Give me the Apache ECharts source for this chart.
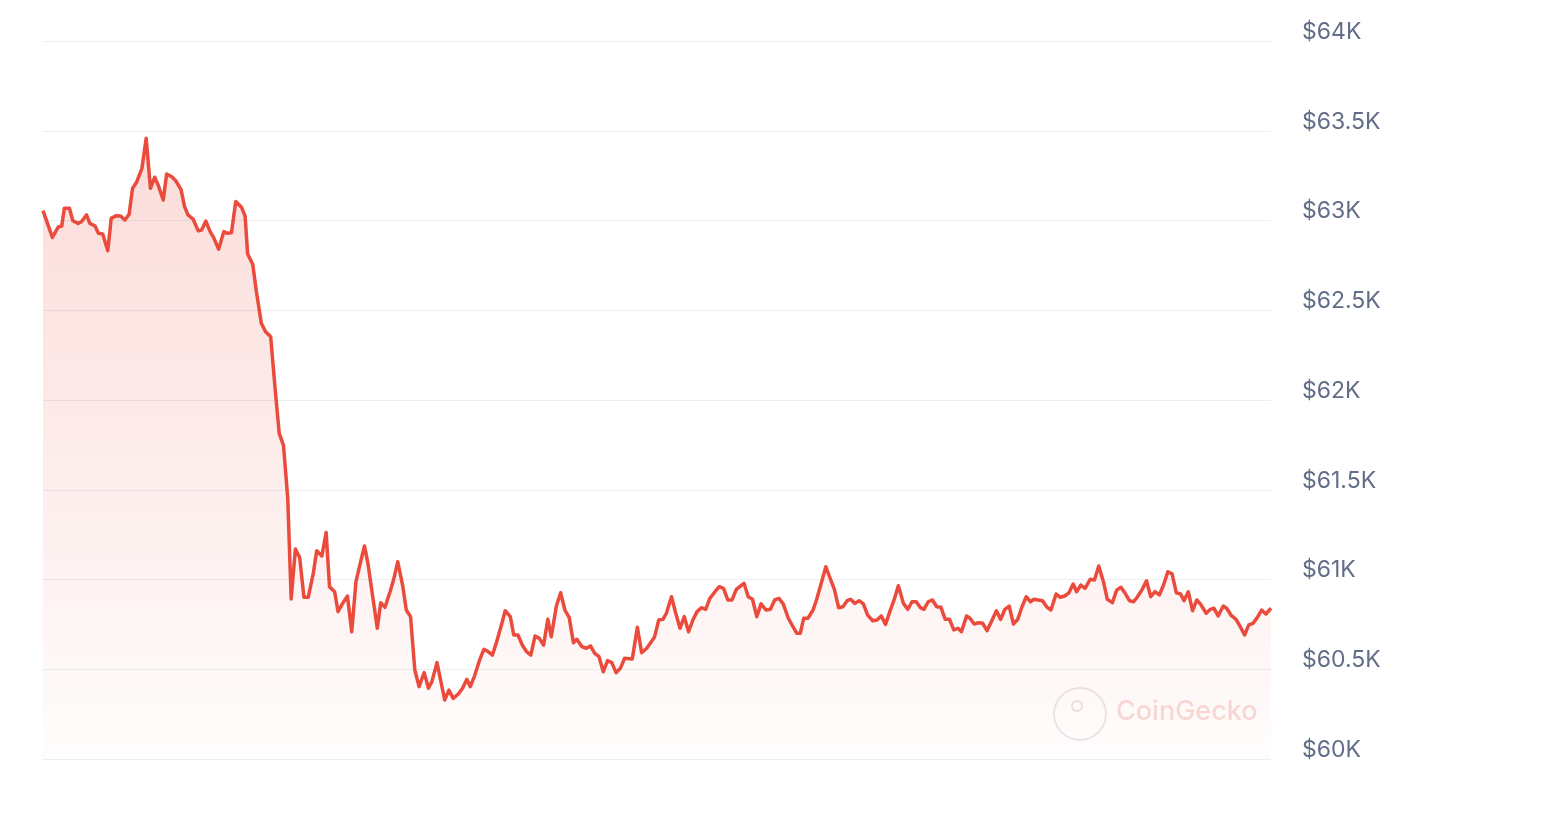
<!DOCTYPE html>
<html>
<head>
<meta charset="utf-8">
<script src="https://cdn.jsdelivr.net/npm/echarts@6/dist/echarts.min.js"></script>
<style>
html,body{margin:0;padding:0;background:#fff;}
#chart{width:1542px;height:814px;}
</style>
</head>
<body>
<div id="chart"></div>
<script>
// Minutes since start of the 24h window
const minutes = [
  0,11,18,22,25,31,35,41,45,51,
  55,61,65,70,76,80,86,91,96,101,
  105,110,116,121,126,131,135,141,145,151,
  156,162,166,170,176,182,186,191,196,200,
  206,212,216,221,226,233,237,240,246,250,
  256,261,267,272,277,282,287,291,296,301,
  306,311,317,321,327,332,336,342,346,351,
  357,362,367,372,377,381,392,396,401,407,411,
  416,422,426,431,436,441,447,452,456,462,467,
  471,476,481,487,492,497,501,506,512,517,
  522,527,532,537,542,548,552,557,562,567,
  572,577,582,587,592,596,602,607,612,617,
  622,626,632,637,642,647,652,657,662,667,
  672,677,682,691,697,702,708,717,722,727,
  731,737,742,747,752,757,762,767,772,777,
  782,788,793,798,803,808,813,817,822,827,
  832,837,842,848,853,858,863,868,874,879,
  884,888,892,897,903,907,912,918,923,928,
  933,938,943,947,952,957,962,967,973,978,
  983,988,993,998,1003,1009,1014,1019,1024,1029,
  1033,1038,1043,1048,1053,1058,1063,1068,1073,1077,
  1083,1087,1092,1097,1102,1107,1113,1118,1123,1128,
  1133,1138,1143,1148,1153,1158,1162,1167,1172,1177,
  1182,1188,1193,1198,1203,1208,1212,1217,1222,1228,
  1233,1238,1244,1248,1254,1259,1264,1269,1274,1279,
  1283,1289,1294,1299,1304,1309,1314,1319,1324,1329,
  1334,1338,1343,1348,1353,1358,1364,1369,1373,1378,
  1384,1388,1393,1399,1404,1409,1414,1419,1424,1429,1434,1440
];
// Price in USD
const prices = [
  63055,62906,62964,62969,63068,63068,62999,62984,62993,63031,
  62984,62969,62929,62925,62832,63012,63027,63025,63003,63035,
  63179,63216,63291,63458,63179,63241,63198,63114,63259,63244,
  63220,63170,63077,63031,63008,62942,62947,62997,62938,62906,
  62840,62938,62929,62932,63106,63072,63024,62813,62755,62611,
  62428,62380,62352,62073,61814,61747,61454,60892,61170,61122,
  60901,60901,61036,61160,61131,61262,60959,60932,60821,60864,
  60908,60709,60988,61090,61187,61090,60728,60871,60845,60932,60997,
  61099,60960,60830,60793,60496,60403,60481,60394,60431,60537,60422,
  60329,60384,60338,60362,60394,60444,60403,60462,60552,60611,
  60598,60579,60653,60737,60826,60793,60691,60691,60635,60598,
  60579,60685,60672,60635,60778,60681,60852,60926,60830,60789,
  60648,60667,60626,60617,60630,60589,60570,60486,60548,60537,
  60481,60505,60561,60557,60734,60592,60617,60678,60774,60778,
  60812,60904,60812,60728,60793,60709,60774,60821,60843,60834,
  60895,60932,60960,60951,60886,60886,60945,60960,60979,60904,
  60890,60793,60864,60830,60834,60886,60895,60864,60784,60741,
  60700,60700,60784,60784,60830,60886,60969,61071,61007,60945,
  60843,60848,60882,60890,60867,60882,60864,60802,60770,60774,
  60797,60750,60821,60886,60965,60867,60834,60876,60876,60843,
  60834,60876,60886,60848,60845,60778,60778,60719,60728,60709,
  60797,60784,60752,60759,60756,60715,60774,60826,60778,60834,
  60852,60752,60778,60848,60904,60876,60890,60886,60882,60848,
  60830,60919,60901,60908,60926,60975,60932,60969,60951,61001,
  60997,61075,60979,60890,60871,60941,60957,60923,60882,60876,
  60901,60945,60993,60904,60932,60914,60969,61043,61031,60926,
  60919,60882,60932,60826,60886,60858,60812,60834,60840,60797,
  60852,60840,60802,60778,60737,60691,60747,60756,60789,60830,60808,60840
];
const yMin = 60000, yMax = 64000, yStep = 500;
const watermarkText = 'CoinGecko';

const seriesData = minutes.map((m, i) => [m, prices[i]]);

const chart = echarts.init(document.getElementById('chart'), null, {renderer: 'canvas'});
chart.setOption({
  animation: false,
  backgroundColor: '#ffffff',
  grid: {left: 43, right: 271, top: 41, bottom: 55, containLabel: false},
  xAxis: {
    type: 'value', min: 0, max: 1440,
    show: false
  },
  yAxis: {
    type: 'value', position: 'right',
    min: yMin, max: yMax, interval: yStep,
    axisLine: {show: false}, axisTick: {show: false},
    splitLine: {lineStyle: {color: '#eceef2', width: 1}},
    axisLabel: {
      margin: 31,
      color: '#626d88',
      fontSize: 23,
      fontFamily: 'Inter, "Liberation Sans", sans-serif',
      verticalAlign: 'bottom',
      lineHeight: 18,
      formatter: v => '$' + (v / 1000) + 'K'
    }
  },
  graphic: [
    {
      type: 'circle', left: 1053, top: 687, z: 1,
      shape: {r: 26},
      style: {fill: 'rgba(255,255,255,0.35)', stroke: 'rgba(225,215,218,0.6)', lineWidth: 2}
    },
    {
      type: 'circle', left: 1071, top: 700, z: 1,
      shape: {r: 5},
      style: {fill: 'rgba(255,255,255,0.6)', stroke: 'rgba(225,205,210,0.6)', lineWidth: 2}
    },
    {
      type: 'text', left: 1116, top: 698, z: 1,
      style: {text: watermarkText, fill: 'rgba(236,120,112,0.28)', fontSize: 27,
              fontFamily: 'Inter, "Liberation Sans", sans-serif', fontWeight: 500}
    }
  ],
  series: [{
    type: 'line',
    data: seriesData,
    showSymbol: false,
    smooth: false,
    sampling: 'none',
    z: 3,
    lineStyle: {color: '#ea4b3c', width: 3.5, join: 'round'},
    areaStyle: {
      origin: 'start',
      color: new echarts.graphic.LinearGradient(0, 0, 0, 1, [
        {offset: 0, color: 'rgba(234,75,60,0.28)'},
        {offset: 1, color: 'rgba(234,75,60,0.02)'}
      ])
    }
  }]
});
</script>
</body>
</html>
